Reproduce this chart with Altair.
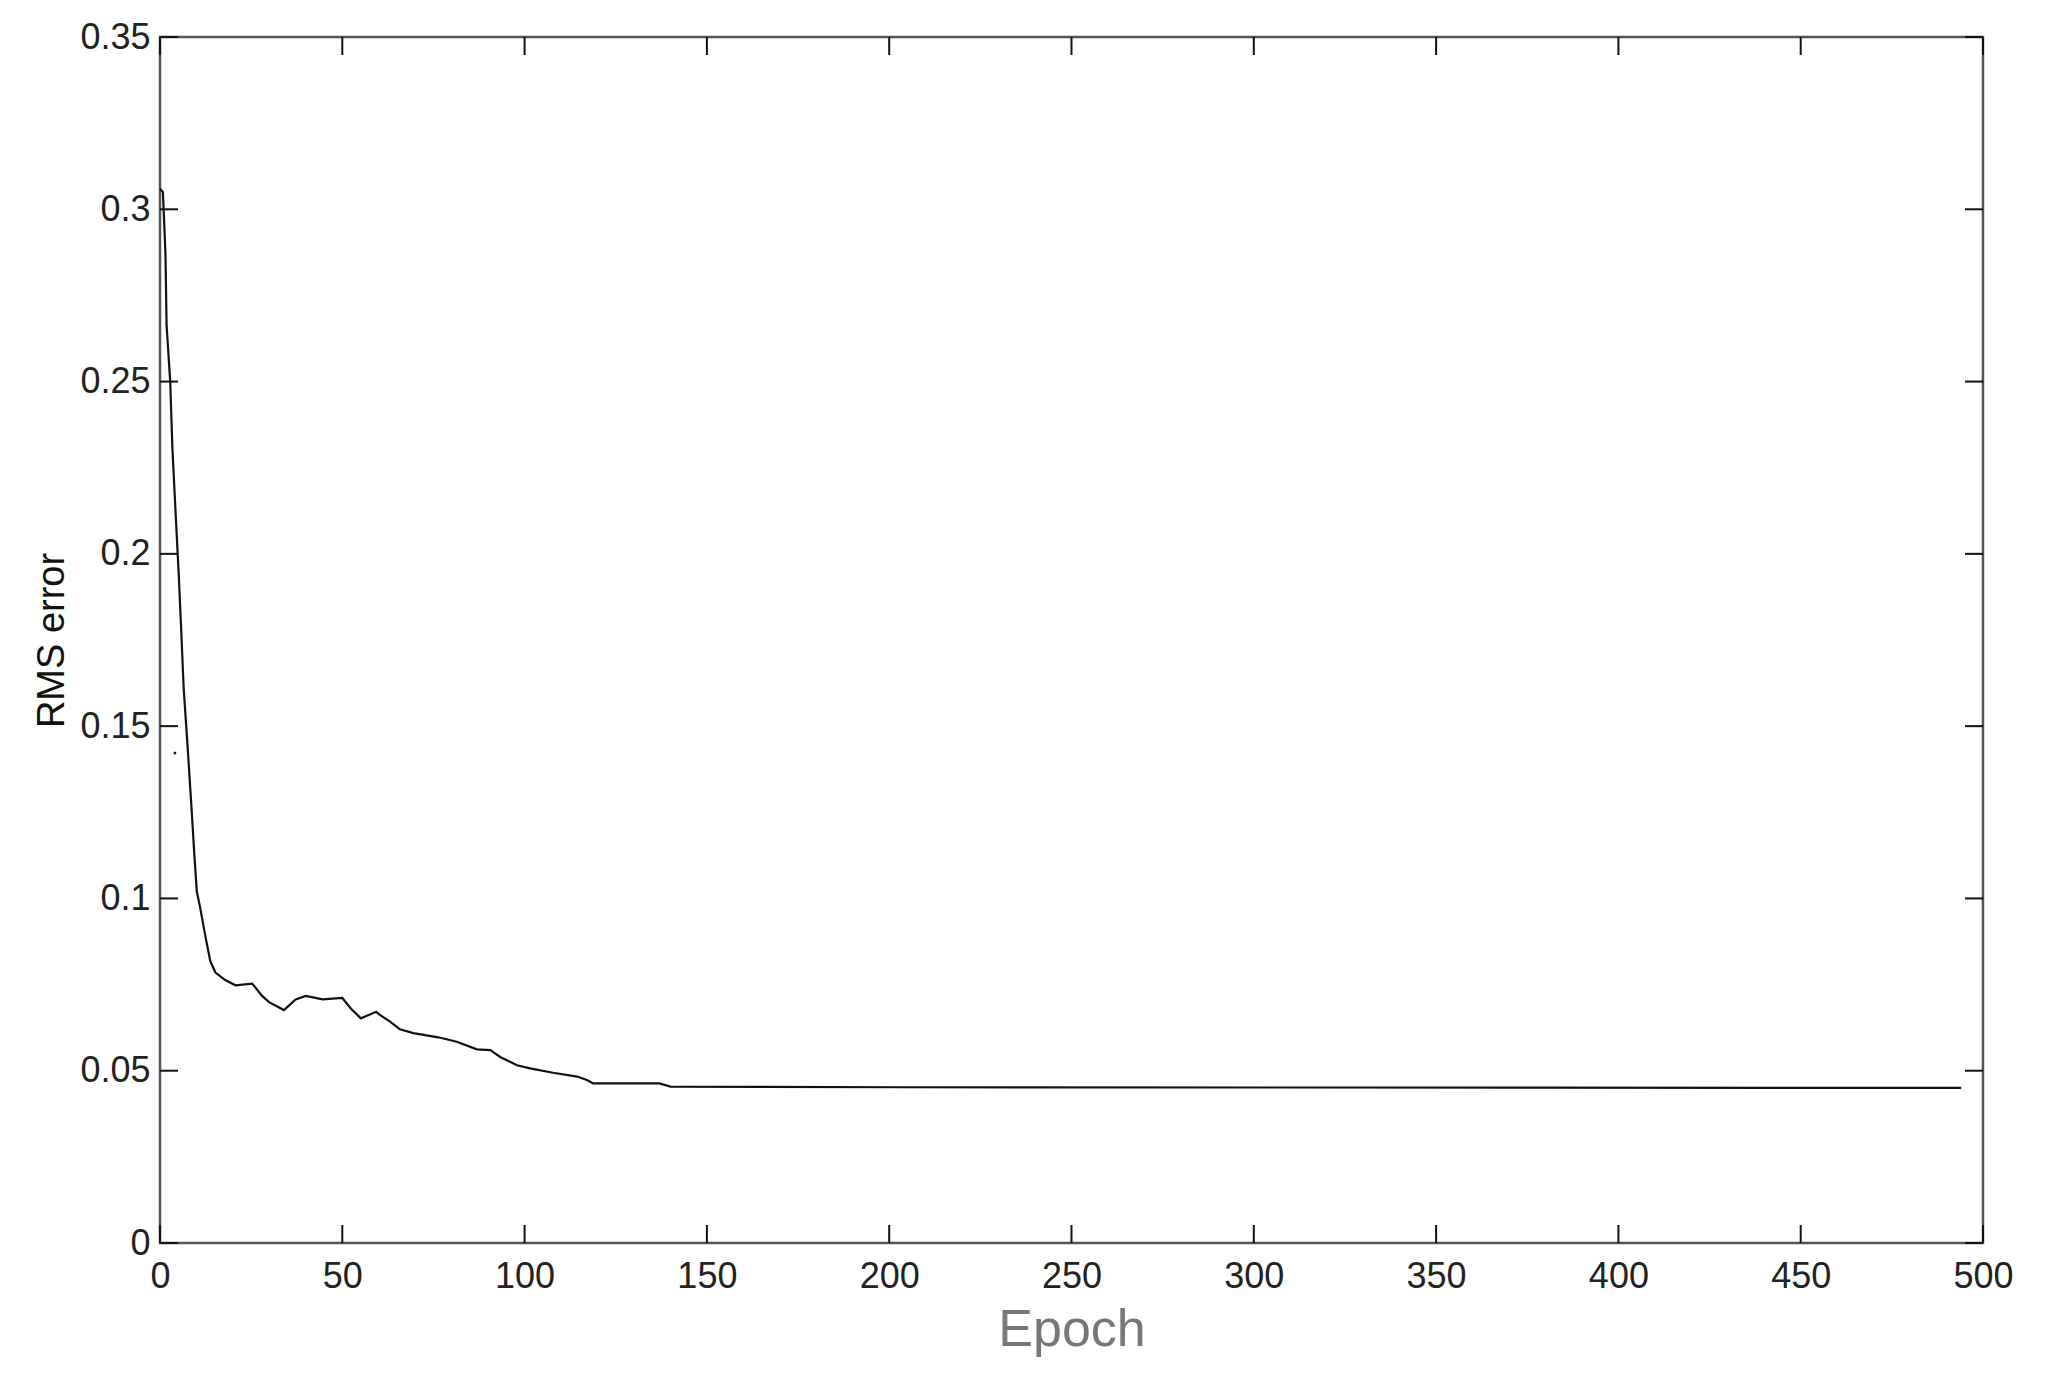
import altair as alt
import pandas as pd

# ---- data ----
epochs = [0, 0.8, 1.5, 1.8, 2.8, 3.4, 4.3, 5.1, 5.8, 6.5, 7.5, 8.5, 9.4, 10.1, 11,
          12.6, 13.8, 15.2, 17.9, 20.7, 25.3, 28, 29.9, 34, 37.2, 40, 44.6, 50,
          52.4, 55.1, 59.3, 60.3, 63, 65.8, 69.5, 76.3, 81.4, 86.9, 90.6, 93.3,
          97.9, 101.5, 107.8, 114.4, 117.1, 118.8, 137, 140, 203, 494]
rms = [0.306, 0.305, 0.287, 0.2665, 0.250, 0.2307, 0.2114, 0.1949, 0.1783, 0.1608,
       0.1452, 0.1287, 0.1130, 0.102, 0.0974, 0.0882, 0.0818, 0.0785, 0.0763,
       0.0748, 0.0753, 0.0717, 0.0699, 0.0676, 0.0707, 0.0717, 0.0707, 0.0711,
       0.0680, 0.0652, 0.0671, 0.0662, 0.0643, 0.0620, 0.0609, 0.0597, 0.0584,
       0.0562, 0.0560, 0.0540, 0.0516, 0.0507, 0.0494, 0.0483, 0.0473, 0.0463,
       0.0463, 0.0454, 0.0452, 0.0450]

stray_epoch = [4.1]
stray_rms = [0.1422]

x_ticks = [0, 50, 100, 150, 200, 250, 300, 350, 400, 450, 500]
y_ticks = [0, 0.05, 0.1, 0.15, 0.2, 0.25, 0.3, 0.35]

W, H = 1823, 1206
TICK = 18
FONT = "Liberation Sans"

df = pd.DataFrame({"epoch": epochs, "rms": rms})
df_dot = pd.DataFrame({"epoch": stray_epoch, "rms": stray_rms})
df_xt = pd.DataFrame({"epoch": x_ticks})
df_yt = pd.DataFrame({"rms": y_ticks})

x_enc = alt.X(
    "epoch:Q",
    scale=alt.Scale(domain=[0, 500], nice=False, zero=False),
    axis=alt.Axis(
        values=x_ticks, format="d", title="Epoch", grid=False, ticks=False,
        domain=False, labelFont=FONT, labelFontSize=36, labelColor="#222",
        labelPadding=16, labelFlush=False, labelOverlap=False, labelBound=False,
        titleFont=FONT, titleFontSize=52, titleFontWeight="normal",
        titleColor="#777", titlePadding=10,
    ),
)
y_enc = alt.Y(
    "rms:Q",
    scale=alt.Scale(domain=[0, 0.35], nice=False, zero=False),
    axis=alt.Axis(
        values=y_ticks, format=".2~f", title="RMS error", grid=False, ticks=False,
        domain=False, labelFont=FONT, labelFontSize=36, labelColor="#222",
        labelPadding=10, labelFlush=False, labelOverlap=False, labelBound=False,
        titleFont=FONT, titleFontSize=38, titleFontWeight="normal",
        titleColor="#111", titlePadding=8,
    ),
)

line = alt.Chart(df).mark_line(color="#111", strokeWidth=2.2).encode(x=x_enc, y=y_enc)
dot = alt.Chart(df_dot).mark_square(color="#111", size=6, opacity=1).encode(x=x_enc, y=y_enc)

tick_style = dict(color="#111", strokeWidth=2)
bottom_ticks = alt.Chart(df_xt).mark_rule(**tick_style).encode(
    x=x_enc, y=alt.value(H), y2=alt.value(H - TICK))
top_ticks = alt.Chart(df_xt).mark_rule(**tick_style).encode(
    x=x_enc, y=alt.value(0), y2=alt.value(TICK))
left_ticks = alt.Chart(df_yt).mark_rule(**tick_style).encode(
    y=y_enc, x=alt.value(0), x2=alt.value(TICK))
right_ticks = alt.Chart(df_yt).mark_rule(**tick_style).encode(
    y=y_enc, x=alt.value(W), x2=alt.value(W - TICK))

chart = alt.layer(
    line, dot, bottom_ticks, top_ticks, left_ticks, right_ticks
).properties(
    width=W, height=H,
    autosize=alt.AutoSizeParams(type="none"),
    padding={"left": 152, "top": 29, "right": 30, "bottom": 130},
    background="white",
).configure_view(
    stroke="#555", strokeWidth=2.5
)

chart.save("out.html", embed_options={"renderer": "svg", "actions": False})
